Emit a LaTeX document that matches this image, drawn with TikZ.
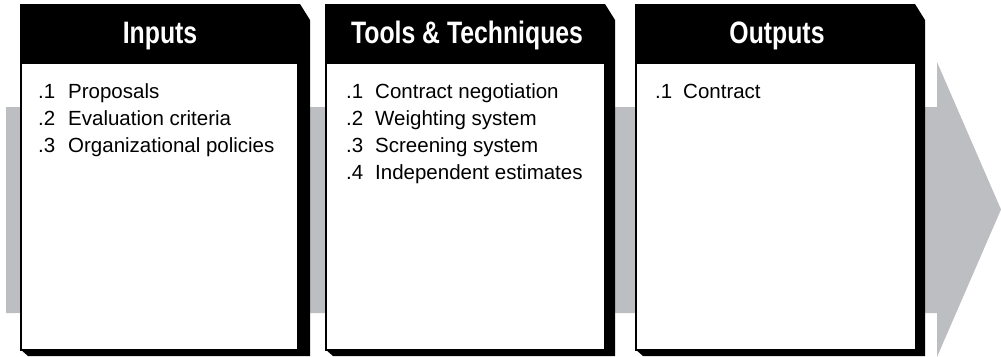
\documentclass[tikz,border=0pt]{standalone}
\usepackage{fontspec}
\setmainfont{Liberation Sans}
\newfontfamily\hdfont{Liberation Sans}[FakeStretch=0.8]
\definecolor{arrowgray}{RGB}{189,190,193}
\tikzset{
  hdtext/.style={text=white, font=\hdfont\bfseries\fontsize{31}{34}\selectfont, anchor=base, inner sep=0pt},
  numtext/.style={font=\fontsize{20.5}{24}\selectfont, anchor=base west, inner sep=0pt},
  itemtext/.style={font=\fontsize{20.5}{24}\selectfont, anchor=base west, inner sep=0pt},
  shadowshape/.style={fill=black},
  whitebox/.style={fill=white, draw=black, line width=1.2pt}
}
\begin{document}
\begin{tikzpicture}[x=1pt,y=-1pt]
\useasboundingbox (0,0) rectangle (1001,356);
% gray arrow
\fill[arrowgray] (6,107) -- (937,107) -- (937,62) -- (1001,209.5) -- (937,357) -- (937,313) -- (6,313) -- cycle;
% boxes
\foreach \L/\W in {20/278, 325/280, 635/281} {
  \fill[black] (\L,4) -- ({\L+280},4) -- ({\L+290},20) -- ({\L+290},356) -- ({\L+8},356) -- (\L,349) -- cycle;
  \draw[whitebox] ({\L+1},63) rectangle ({\L+\W},350);
}
% headers
\node[hdtext] (h1) at (160,43) {Inputs};
\node[hdtext] (h2) at (467,43) {Tools \& Techniques};
\node[hdtext] (h3) at (777,43) {Outputs};
% Inputs
\node[numtext] (i1n) at (38,98) {.1};  \node[itemtext] (i1) at (68,98) {Proposals};
\node[numtext] (i2n) at (38,125) {.2}; \node[itemtext] (i2) at (68,125) {Evaluation criteria};
\node[numtext] (i3n) at (38,152) {.3}; \node[itemtext] (i3) at (68,152) {Organizational policies};
% Tools
\node[numtext] (t1n) at (346,98) {.1};  \node[itemtext] (t1) at (375,98) {Contract negotiation};
\node[numtext] (t2n) at (346,125) {.2}; \node[itemtext] (t2) at (375,125) {Weighting system};
\node[numtext] (t3n) at (346,152) {.3}; \node[itemtext] (t3) at (375,152) {Screening system};
\node[numtext] (t4n) at (346,179) {.4}; \node[itemtext] (t4) at (375,179) {Independent estimates};
% Outputs
\node[numtext] (o1n) at (655,98) {.1};  \node[itemtext] (o1) at (683,98) {Contract};
\end{tikzpicture}
\end{document}
